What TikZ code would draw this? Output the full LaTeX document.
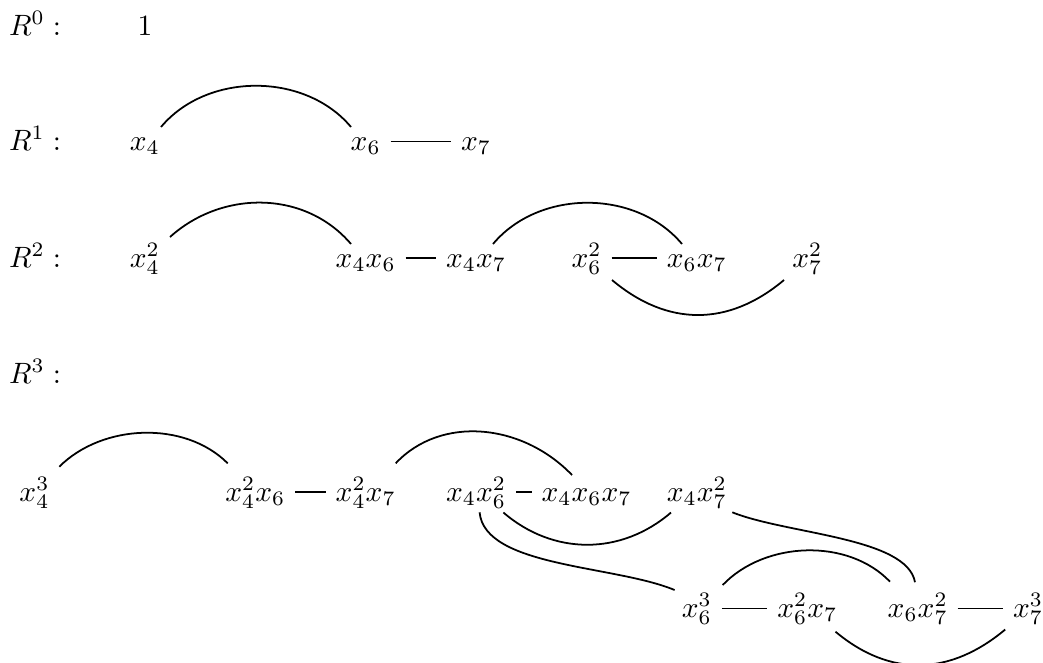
\documentclass[tikz,border=0pt]{standalone}
\usetikzlibrary{calc}
\begin{document}
\begin{tikzpicture}[x=0.34pt,y=-0.34pt,
  term/.style={inner xsep=3.4pt, inner ysep=0pt, outer sep=0pt, anchor=base},
  rowlabel/.style={inner sep=0pt, outer sep=0pt, anchor=base west},
  link/.style={line width=0.6pt}]
\useasboundingbox (0,0) rectangle (1043,662);
% row labels
\node[rowlabel] (l0) at (9,35) {$R^0:$};
\node[rowlabel] (l1) at (9,150.5) {$R^1:$};
\node[rowlabel] (l2) at (9,267) {$R^2:$};
\node[rowlabel] (l3) at (9,383) {$R^3:$};
% R^0
\node[term] (one) at (144.9,35) {$1$};
% R^1
\node[term] (a4) at (144.9,150.5) {$x_4$};
\node[term] (a6) at (365.7,150.5) {$x_6$};
\node[term] (a7) at (476.1,150.5) {$x_7$};
% R^2
\node[term] (b44) at (144.9,267) {$x_4^2$};
\node[term] (b46) at (365.7,267) {$x_4x_6$};
\node[term] (b47) at (476.1,267) {$x_4x_7$};
\node[term] (b66) at (586.5,267) {$x_6^2$};
\node[term] (b67) at (696.9,267) {$x_6x_7$};
\node[term] (b77) at (807.3,267) {$x_7^2$};
% R^3
\node[term] (c444) at (34.5,501) {$x_4^3$};
\node[term] (c446) at (255.3,501) {$x_4^2x_6$};
\node[term] (c447) at (365.7,501) {$x_4^2x_7$};
\node[term] (c466) at (476.1,501) {$x_4x_6^2$};
\node[term] (c467) at (586.5,501) {$x_4x_6x_7$};
\node[term] (c477) at (696.9,501) {$x_4x_7^2$};
\node[term] (d666) at (696.9,617.5) {$x_6^3$};
\node[term] (d667) at (807.3,617.5) {$x_6^2x_7$};
\node[term] (d677) at (917.7,617.5) {$x_6x_7^2$};
\node[term] (d777) at (1028.1,617.5) {$x_7^3$};
% straight links
\draw[link] ($(a6.base east)+(0,-9)$) -- ($(a7.base west)+(0,-9)$);
\draw[link] ($(b46.base east)+(0,-9)$) -- ($(b47.base west)+(0,-9)$);
\draw[link] ($(b66.base east)+(0,-9)$) -- ($(b67.base west)+(0,-9)$);
\draw[link] ($(c446.base east)+(0,-9)$) -- ($(c447.base west)+(0,-9)$);
\draw[link] ($(c466.base east)+(0,-9)$) -- ($(c467.base west)+(0,-9)$);
\draw[link] ($(d666.base east)+(0,-9)$) -- ($(d667.base west)+(0,-9)$);
\draw[link] ($(d677.base east)+(0,-9)$) -- ($(d777.base west)+(0,-9)$);
% curved links R^1
\draw[link] ($(a4.base)+(16.1,-23.5)$) .. controls +(46,-55) and +(-46,-55) .. ($(a6.base)+(-14.7,-23.5)$);
% R^2
\draw[link] ($(b44.base)+(25.1,-30)$) .. controls +(52,-47) and +(-46,-54) .. ($(b46.base)+(-14.7,-23)$);
\draw[link] ($(b47.base)+(16.9,-23)$) .. controls +(46,-55) and +(-46,-55) .. ($(b67.base)+(-14.9,-23)$);
\draw[link] ($(b66.base)+(25.5,13)$) .. controls +(55.6,46.7) and +(-55.6,46.7) .. ($(b77.base)+(-23.3,13)$);
% R^3
\draw[link] ($(c444.base)+(24.8,-34.3)$) .. controls +(43,-43) and +(-43,-43) .. ($(c446.base)+(-27.6,-37.7)$);
\draw[link] ($(c447.base)+(30,-37.7)$) .. controls +(45,-48) and +(-50,-52) .. ($(c467.base)+(-14.5,-26)$);
\draw[link] ($(c466.base)+(27.3,11.5)$) .. controls +(50,43) and +(-50,43) .. ($(c477.base)+(-25.9,11.5)$);
\draw[link] ($(c466.base)+(3.5,11.3)$) .. controls +(5,55) and +(-60,-25) .. ($(d666.base)+(-22.3,-27.5)$);
\draw[link] ($(c477.base)+(35.4,11.3)$) .. controls +(55,22) and +(-8,-45) .. ($(d677.base)+(-2.7,-35.3)$);
\draw[link] ($(d666.base)+(25.8,-32.5)$) .. controls +(42,-44) and +(-42,-44) .. ($(d677.base)+(-27.7,-35.8)$);
\draw[link] ($(d667.base)+(28.2,14.2)$) .. controls +(55,46) and +(-55,46) .. ($(d777.base)+(-22.9,12)$);
\end{tikzpicture}
\end{document}
